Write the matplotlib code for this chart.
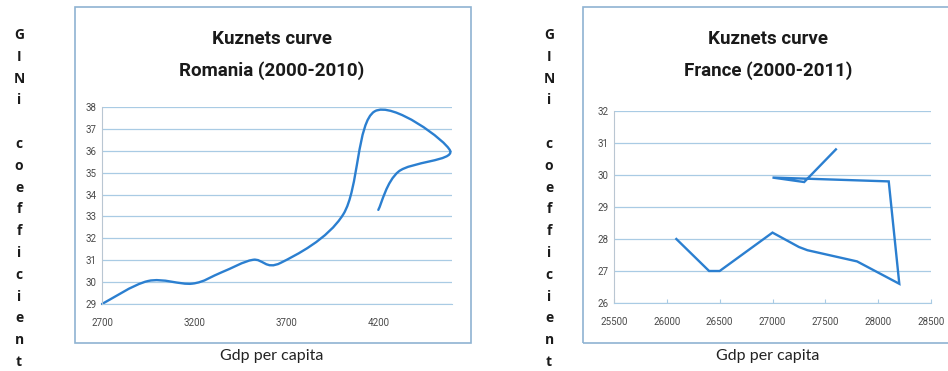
import matplotlib

matplotlib.use("Agg")
import matplotlib.pyplot as plt
from matplotlib.path import Path
from matplotlib.patches import PathPatch, Rectangle

# Romania 2000-2010: GDP per capita vs. GINI
gdp_ro = [2700, 2950, 3190, 3350, 3520, 3670, 4010, 4180, 4590, 4310, 4200]
gini_ro = [29.0, 30.05, 29.93, 30.45, 31.02, 30.88, 33.1, 37.8, 36.0, 35.05, 33.3]
xticks_ro = [2700, 3200, 3700, 4200]
yticks_ro = [29, 30, 31, 32, 33, 34, 35, 36, 37, 38]

# France 2000-2011
gdp_fr = [26090, 26400, 26500, 27000, 27250, 27330, 27800, 28200, 28100, 27000, 27300, 27600]
gini_fr = [28.0, 27.0, 27.0, 28.2, 27.75, 27.65, 27.3, 26.6, 29.8, 29.92, 29.78, 30.8]
xticks_fr = [25500, 26000, 26500, 27000, 27500, 28000, 28500]
yticks_fr = [26, 27, 28, 29, 30, 31, 32]

LINE = "#2b7fd0"
GRID = "#a9cbe4"
FRAME = "#8fb3d2"
TITLE_FONT = ["Roboto", "DejaVu Sans"]
TICK_FONT = ["Roboto", "DejaVu Sans"]
W, H = 948, 371


def fx(px):
    return px / W


def fy(py):
    return 1 - py / H


def smooth_path(xs, ys):
    # Catmull-Rom spline turned into cubic bezier segments
    pts = list(zip(xs, ys))
    verts = [pts[0]]
    codes = [Path.MOVETO]
    n = len(pts)
    for i in range(n - 1):
        p0 = pts[max(i - 1, 0)]
        p1 = pts[i]
        p2 = pts[i + 1]
        p3 = pts[min(i + 2, n - 1)]
        c1 = (p1[0] + (p2[0] - p0[0]) / 6, p1[1] + (p2[1] - p0[1]) / 6)
        c2 = (p2[0] - (p3[0] - p1[0]) / 6, p2[1] - (p3[1] - p1[1]) / 6)
        verts += [c1, c2, p2]
        codes += [Path.CURVE4] * 3
    return Path(verts, codes)


def style_axes(ax, xticks, yticks, xlim, ylim, xtick_marks):
    ax.set_xlim(*xlim)
    ax.set_ylim(*ylim)
    ax.set_xticks(xticks)
    ax.set_yticks(yticks)
    ax.grid(axis="y", color=GRID, linewidth=0.9)
    ax.set_axisbelow(True)
    for side in ("top", "right"):
        ax.spines[side].set_visible(False)
    ax.spines["left"].set_color("#b9c6d2")
    ax.spines["bottom"].set_color(GRID)
    ax.tick_params(axis="y", length=0, pad=4, labelsize=7, labelcolor="#4a4a4a")
    ax.tick_params(
        axis="x",
        length=3 if xtick_marks else 0,
        direction="in",
        color=GRID,
        pad=10,
        labelsize=7,
        labelcolor="#4a4a4a",
    )
    for lab in ax.get_xticklabels() + ax.get_yticklabels():
        lab.set_family(TICK_FONT)


def chart_frame(fig, x0, x1, title2, center, ylab_x, xlab_y):
    fig.patches.append(
        Rectangle(
            (fx(x0), fy(343)),
            fx(x1) - fx(x0),
            fy(7) - fy(343),
            transform=fig.transFigure,
            fill=False,
            edgecolor=FRAME,
            linewidth=1.2,
        )
    )
    fig.text(fx(center), fy(39), "Kuznets curve", ha="center", va="center",
             fontsize=13.5, fontweight="bold", family=TITLE_FONT, color="#1a1a1a")
    fig.text(fx(center), fy(71), title2, ha="center", va="center",
             fontsize=13.5, fontweight="bold", family=TITLE_FONT, color="#1a1a1a")
    fig.text(fx(center), fy(xlab_y), "Gdp per capita", ha="center", va="center",
             fontsize=11.5, family=["Lato", "DejaVu Sans"], color="#222222")
    letters = "GINi coefficient"
    for i, ch in enumerate(letters):
        if ch == " ":
            continue
        fig.text(fx(ylab_x), fy(35 + i * 21.8), ch, ha="center", va="center",
                 fontsize=10, fontweight="bold", family=["Open Sans", "DejaVu Sans"],
                 color="#1a1a1a")


fig = plt.figure(figsize=(9.48, 3.71), dpi=100)
fig.patch.set_facecolor("white")

# Romania
ax1 = fig.add_axes([fx(102), fy(304), fx(452) - fx(102), fy(107) - fy(304)])
style_axes(ax1, xticks_ro, yticks_ro, (2700, 4600), (29, 38), False)
ax1.add_patch(PathPatch(smooth_path(gdp_ro, gini_ro), fill=False,
                        edgecolor=LINE, linewidth=1.7, capstyle="round",
                        joinstyle="round", clip_on=False))
chart_frame(fig, 75, 471, "Romania (2000-2010)", 272, 19, 356)

# France
ax2 = fig.add_axes([fx(614), fy(303), fx(931) - fx(614), fy(111) - fy(303)])
style_axes(ax2, xticks_fr, yticks_fr, (25500, 28500), (26, 32), True)
ax2.plot(gdp_fr, gini_fr, color=LINE, linewidth=1.7, solid_joinstyle="miter",
         clip_on=False)
chart_frame(fig, 583, 960, "France (2000-2011)", 768, 549, 356)

fig.savefig("out.png", dpi=100, facecolor="white")
